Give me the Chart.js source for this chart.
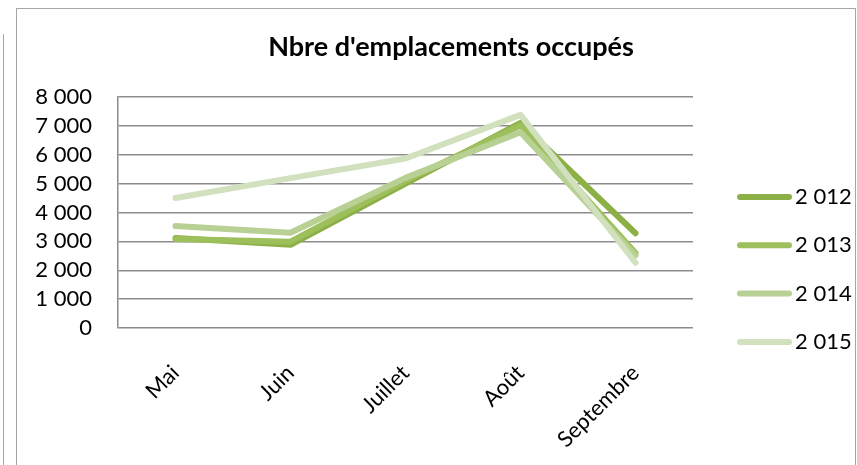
<!DOCTYPE html>
<html>
<head>
<meta charset="utf-8">
<script src="https://cdn.jsdelivr.net/npm/chart.js@4"></script>
<style>
  body { margin: 0; background: #fff; }
  #wrap { position: relative; width: 857px; height: 465px; overflow: hidden; }
  #frame { position: absolute; left: 16px; top: 8px; width: 838px; height: 500px; border: 1px solid #a6a6a6; }
  #edge { position: absolute; left: 3px; top: 34px; width: 0; height: 460px; border-left: 1px solid #a6a6a6; }
  canvas { position: absolute; left: 0; top: 0; }
</style>
</head>
<body>
<div id="wrap">
  <div id="edge"></div>
  <div id="frame"></div>
  <canvas id="chart" width="857" height="465"></canvas>
</div>
<script>
const mois = ["Mai", "Juin", "Juillet", "Août", "Septembre"];
const annees = ["2 012", "2 013", "2 014", "2 015"];
const v2012 = [3120, 2880, 5000, 7100, 3280];
const v2013 = [3080, 2990, 5100, 7020, 2600];
const v2014 = [3530, 3300, 5200, 6780, 2520];
const v2015 = [4500, 5190, 5870, 7380, 2260];
const couleurs = ["#8db046", "#9dc05c", "#b8d093", "#d1e0bd"];

const fontFam = "Lato, 'Open Sans', sans-serif";

function fmt(v) {
  return String(v).replace(/\B(?=(\d{3})+(?!\d))/g, " ");
}

// legend drawn at the right like the original
const legendeDroite = {
  id: "legendeDroite",
  afterLayout(chart) {
    // title is centred a bit right of the canvas middle
    chart.titleBlock.left += 45;
  },
  afterDraw(chart) {
    const ctx = chart.ctx;
    ctx.save();
    chart.data.datasets.forEach((ds, i) => {
      const y = 197 + i * 48.3;
      ctx.strokeStyle = ds.borderColor;
      ctx.lineWidth = 6;
      ctx.lineCap = "round";
      ctx.beginPath();
      ctx.moveTo(740, y);
      ctx.lineTo(789, y);
      ctx.stroke();
      ctx.fillStyle = "#000";
      ctx.font = "22px " + fontFam;
      ctx.textBaseline = "middle";
      ctx.fillText(ds.label, 795, y);
    });
    ctx.restore();
  }
};

const series = [v2012, v2013, v2014, v2015];

new Chart(document.getElementById("chart"), {
  type: "line",
  data: {
    labels: mois,
    datasets: series.map((d, i) => ({
      label: annees[i],
      data: d,
      borderColor: couleurs[i],
      backgroundColor: couleurs[i],
      borderWidth: 6,
      borderCapStyle: "round",
      borderJoinStyle: "round",
      pointRadius: 0,
      tension: 0,
      order: 3 - i
    }))
  },
  options: {
    responsive: false,
    animation: false,
    layout: { padding: { left: 0, right: 0, top: 0, bottom: 0 } },
    plugins: {
      legend: { display: false },
      tooltip: { enabled: false },
      title: {
        display: true,
        text: "Nbre d'emplacements occupés",
        color: "#000",
        font: { family: fontFam, size: 27, weight: "bold" },
        padding: { top: 31, bottom: 33.6 }
      }
    },
    scales: {
      x: {
        offset: true,
        grid: { display: false },
        border: { display: false },
        ticks: {
          color: "#000",
          font: { family: fontFam, size: 22 },
          maxRotation: 45,
          minRotation: 45,
          padding: 24
        },
        afterFit(scale) { scale.height = 137; }
      },
      y: {
        min: 0,
        max: 8000,
        ticks: {
          stepSize: 1000,
          autoSkip: false,
          color: "#000",
          font: { family: fontFam, size: 22 },
          padding: 26,
          callback: v => fmt(v)
        },
        grid: { color: "#8c8c8c", lineWidth: 1.5, drawTicks: false },
        border: { display: true, color: "#8c8c8c", width: 1.5 },
        afterFit(scale) { scale.width = 118; }
      },
      // empty right-hand box that reserves the legend space
      marge: {
        type: "linear",
        position: "right",
        display: true,
        grid: { display: false, drawTicks: false },
        border: { display: false },
        ticks: { callback: () => "" },
        afterFit(scale) { scale.width = 164; }
      }
    }
  },
  plugins: [legendeDroite]
});
</script>
</body>
</html>
